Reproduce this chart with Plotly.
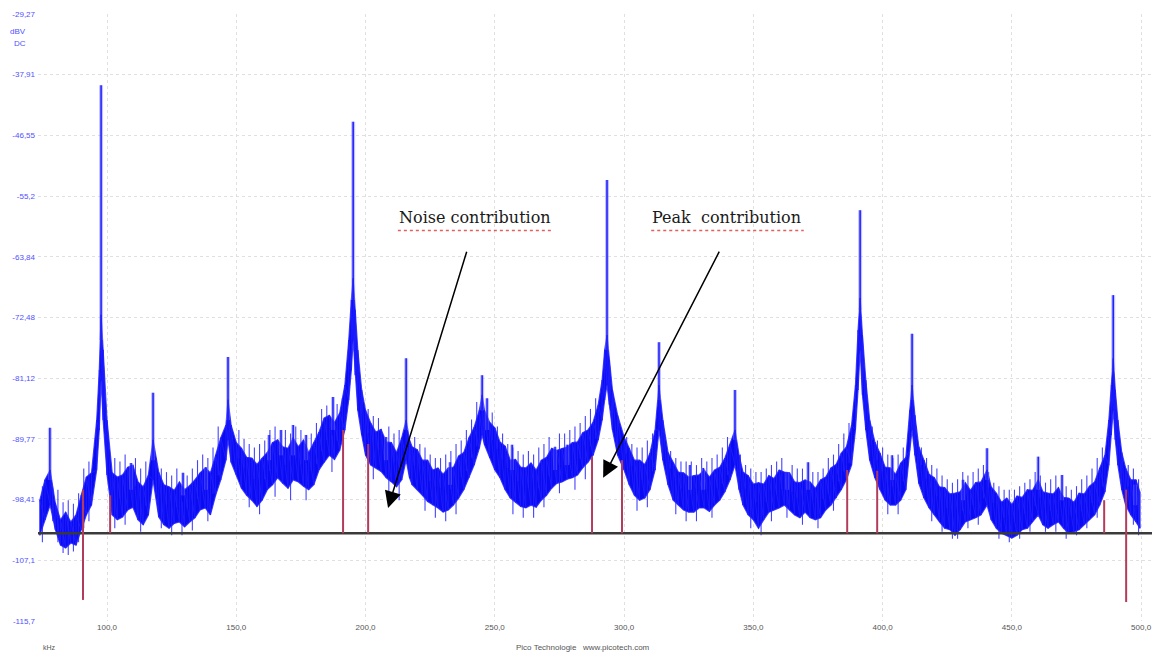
import plotly.graph_objects as go

# Spectrum analyser trace: frequency (kHz) with the lower and upper edge (dBV) of the noisy band
freq_khz = [74, 76, 78, 80, 82, 84, 86, 88, 90, 92, 94, 96, 97, 97.7, 98.5, 100, 102, 104, 106, 108,
            110, 112, 114, 116, 117.8, 120, 122, 124, 126, 128, 130, 132, 134, 136, 138, 140, 142, 144,
            146, 146.8, 148, 150, 152, 154, 156, 158, 160, 162, 164, 166, 168, 170, 172, 174, 176, 178,
            180, 182, 184, 186, 188, 190, 192, 193.5, 194.5, 195.2, 196, 197, 198.5, 200, 202, 204,
            206, 208, 210, 212, 214, 215.7, 217, 218, 220, 222, 224, 226, 228, 230, 232, 234, 236, 238,
            240, 242, 244, 245.1, 246, 248, 250, 252, 254, 256, 258, 260, 262, 264, 266, 268, 270, 272,
            274, 276, 278, 280, 282, 284, 286, 288, 290, 291.5, 292.5, 293.4, 294.3, 295.5, 297.5, 300,
            302, 304, 306, 308, 310, 312, 313.5, 315, 317, 319, 321, 323, 325, 327, 329, 331, 333, 335,
            337, 339, 341, 342.9, 344.5, 346, 348, 350, 352, 354, 356, 358, 360, 362, 364, 366, 368,
            370, 372, 374, 376, 378, 380, 382, 384, 386, 388, 389.5, 390.5, 391.3, 392.2, 393.5, 395,
            397, 399, 401, 403, 405, 407, 409, 410.5, 411.4, 412.5, 414, 416, 418, 420, 422, 424, 426,
            428, 430, 432, 434, 436, 438, 440.4, 442, 444, 446, 448, 450, 452, 454, 456, 458, 460.2,
            462, 464, 466, 468, 470, 472, 474, 476, 478, 480, 482, 484, 486, 487.5, 488.5, 489.2, 490,
            491, 492.5, 494, 496, 498, 499.5]

band_high_db = [-98.5, -95.6, -94.2, -98.9, -101.3, -100.2, -101.6, -100.6, -97.8, -95.2, -94.6, -87.1,
                -80.0, -72.1, -77.1, -87.1, -94.6, -95.2, -94.9, -93.8, -93.5, -95.9, -96.6, -94.9,
                -89.9, -94.5, -96.3, -96.6, -97.1, -95.9, -97.0, -96.4, -95.6, -94.6, -93.9, -94.6,
                -92.1, -89.6, -87.8, -84.2, -87.8, -90.3, -91.1, -92.4, -92.5, -93.4, -92.5, -91.7,
                -90.3, -89.9, -90.9, -91.1, -89.6, -90.9, -89.9, -91.7, -90.3, -88.8, -86.8, -86.4,
                -87.4, -86.1, -82.1, -75.7, -70.0, -66.9, -71.4, -77.1, -82.8, -85.7, -87.5, -88.8,
                -88.4, -90.2, -90.3, -91.7, -89.6, -87.1, -89.9, -90.9, -91.3, -92.8, -92.8, -94.2,
                -93.9, -94.8, -93.9, -93.8, -92.2, -91.7, -89.6, -88.1, -85.7, -83.5, -85.7, -87.4,
                -88.2, -90.2, -90.8, -92.8, -92.7, -93.8, -93.9, -93.2, -94.2, -92.8, -92.4, -91.1,
                -91.4, -91.1, -90.9, -90.3, -90.2, -88.9, -88.5, -87.4, -84.9, -81.4, -77.1, -75.0,
                -78.5, -82.8, -86.4, -89.5, -91.1, -92.8, -92.8, -93.4, -91.8, -88.5, -82.1, -87.1,
                -91.7, -93.2, -94.5, -94.6, -95.2, -95.0, -94.9, -94.2, -95.2, -94.2, -93.8, -92.5,
                -90.6, -88.5, -92.1, -94.5, -95.0, -96.2, -96.0, -96.2, -95.0, -95.4, -94.2, -94.5,
                -94.6, -95.9, -96.0, -95.6, -95.9, -96.8, -95.6, -95.2, -93.9, -93.4, -91.8, -90.9,
                -87.8, -82.1, -74.3, -69.7, -75.0, -81.4, -87.1, -90.2, -91.8, -93.8, -93.9, -94.8,
                -93.2, -92.4, -85.7, -82.1, -86.4, -90.9, -92.8, -94.8, -95.3, -96.6, -96.7, -97.6,
                -97.5, -97.3, -96.0, -97.1, -96.0, -95.9, -94.2, -96.6, -97.5, -98.8, -98.2, -99.1,
                -97.9, -98.1, -97.0, -97.1, -95.6, -97.3, -97.5, -97.6, -96.7, -98.1, -98.2, -98.8,
                -97.5, -97.6, -96.5, -95.9, -93.9, -92.1, -87.1, -82.1, -78.3, -82.8, -87.1, -91.7,
                -93.9, -95.6, -95.6, -97.3]

band_low_db = [-103.5, -101.3, -99.2, -102.7, -104.9, -105.3, -104.6, -104.9, -102.7, -100.6, -99.2,
               -94.2, -88.5, -81.4, -87.1, -94.9, -100.6, -101.3, -100.9, -99.9, -99.5, -101.3, -102.0,
               -100.6, -95.6, -100.9, -102.0, -102.5, -101.8, -101.6, -102.3, -101.6, -101.0, -99.9,
               -99.6, -100.6, -97.8, -95.6, -92.8, -89.9, -93.1, -94.9, -96.8, -97.8, -98.5, -99.4,
               -98.5, -97.0, -96.3, -95.3, -96.1, -96.8, -95.6, -95.9, -96.5, -97.0, -96.3, -94.2,
               -93.1, -92.1, -92.7, -91.4, -88.5, -84.2, -80.0, -75.7, -80.7, -85.7, -89.2, -92.1,
               -93.5, -93.9, -94.4, -95.3, -95.9, -96.6, -95.6, -92.8, -95.3, -96.3, -97.0, -97.8,
               -98.7, -99.2, -99.6, -100.2, -99.9, -99.2, -98.2, -97.0, -95.3, -93.5, -91.1, -89.2,
               -90.6, -92.5, -94.2, -95.3, -97.0, -98.2, -98.8, -99.4, -99.6, -99.2, -99.5, -98.5,
               -97.8, -96.8, -96.1, -95.9, -95.5, -95.3, -94.9, -93.9, -93.1, -92.1, -89.9, -87.1,
               -84.2, -82.1, -84.9, -88.5, -92.1, -94.2, -96.3, -97.8, -98.5, -98.2, -97.0, -94.2,
               -88.5, -92.8, -96.3, -98.5, -99.2, -99.9, -100.2, -100.2, -99.6, -99.6, -100.1, -99.2,
               -98.5, -97.3, -95.6, -93.5, -97.0, -99.2, -100.6, -101.3, -102.5, -101.3, -100.2,
               -99.9, -99.6, -99.2, -99.9, -100.6, -101.0, -100.2, -101.0, -101.3, -101.0, -99.9,
               -99.2, -98.2, -97.0, -95.6, -93.5, -88.5, -82.8, -77.1, -83.5, -88.5, -92.8, -95.3,
               -97.0, -98.5, -99.2, -99.2, -98.5, -97.0, -91.4, -88.5, -92.1, -96.1, -98.2, -99.6,
               -100.6, -101.6, -102.5, -102.7, -103.5, -102.7, -101.6, -101.3, -101.0, -100.6,
               -99.2, -101.3, -102.5, -103.2, -103.5, -103.9, -103.5, -102.7, -102.5, -101.6,
               -100.6, -102.0, -102.5, -102.0, -101.6, -102.5, -103.2, -103.0, -102.7, -102.0,
               -101.3, -100.6, -99.2, -97.3, -93.5, -89.2, -85.7, -89.9, -93.5, -97.0, -99.2, -100.6,
               -101.6, -102.5]

# Short noise excursions sticking out above and below the band
grass_up_khz = [75, 81, 83, 85, 87, 89, 91, 93, 103, 105, 107, 111, 113, 115, 119, 121, 123, 125, 127,
                131, 133, 135, 137, 139, 141, 143, 151, 153, 155, 157, 159, 161, 163, 165, 169, 171,
                173, 175, 179, 181, 183, 185, 189, 191, 201, 203, 205, 209, 211, 213, 219, 221, 223,
                225, 227, 229, 231, 233, 235, 237, 239, 241, 243, 249, 251, 253, 255, 257, 259, 261,
                263, 265, 267, 269, 271, 275, 277, 279, 281, 283, 285, 287, 289, 301, 303, 305, 307,
                309, 311, 316, 318, 320, 322, 324, 326, 328, 330, 332, 334, 336, 338, 340, 345, 347,
                349, 351, 353, 355, 357, 359, 361, 365, 367, 369, 373, 375, 377, 379, 381, 383, 385,
                387, 396, 398, 400, 402, 404, 406, 408, 413, 415, 417, 419, 421, 423, 425, 427, 429,
                431, 433, 435, 437, 439, 441, 443, 445, 447, 449, 451, 453, 455, 457, 459, 461, 463,
                465, 467, 471, 473, 475, 477, 479, 481, 483, 485, 495, 497, 499]
grass_up_db = [-96.5, -97.0, -98.8, -98.5, -99.0, -97.5, -94.0, -93.0, -92.5, -93.0, -92.0, -92.5,
               -94.0, -93.0, -92.5, -94.0, -94.5, -95.0, -94.0, -95.0, -94.0, -92.8, -92.0, -92.5,
               -91.0, -88.0, -88.5, -89.8, -90.5, -91.0, -90.5, -90.0, -88.5, -88.0, -88.5, -89.0,
               -88.0, -88.5, -89.0, -87.5, -85.5, -85.0, -84.8, -84.0, -85.5, -86.5, -86.8, -88.0,
               -89.0, -88.5, -89.5, -90.5, -91.0, -92.0, -92.5, -92.5, -92.0, -91.5, -90.5, -90.0,
               -88.5, -87.0, -84.5, -86.0, -88.0, -89.0, -90.5, -91.0, -91.5, -92.0, -91.5, -92.0,
               -91.0, -90.5, -89.5, -89.0, -89.0, -88.5, -88.0, -87.5, -86.5, -85.5, -84.0, -89.5,
               -90.5, -91.0, -91.0, -90.0, -89.0, -89.5, -91.5, -92.5, -93.0, -93.0, -93.0, -93.5,
               -92.5, -93.0, -92.5, -92.0, -91.0, -89.5, -92.0, -93.5, -94.0, -94.5, -94.5, -94.0,
               -93.5, -93.0, -92.5, -93.5, -94.0, -94.0, -94.5, -94.5, -94.0, -92.5, -92.0, -90.5,
               -89.0, -87.5, -88.0, -90.0, -91.0, -92.0, -92.5, -92.0, -91.0, -88.0, -91.0, -92.5,
               -93.5, -94.0, -95.0, -95.5, -96.0, -95.5, -94.5, -95.0, -94.5, -94.0, -93.5, -94.5,
               -96.0, -96.5, -97.0, -97.0, -97.0, -96.5, -96.0, -95.5, -94.5, -95.0, -96.0, -95.5,
               -95.0, -96.5, -97.0, -96.5, -95.5, -95.0, -94.0, -92.5, -91.0, -93.5, -94.0, -95.5]
grass_down_khz = [75, 79, 81, 83, 85, 87, 89, 91, 93, 103, 107, 113, 121, 125, 129, 133, 139, 155, 159,
                  165, 171, 177, 187, 203, 209, 213, 223, 227, 231, 235, 257, 261, 265, 269, 275, 281,
                  285, 305, 309, 320, 324, 328, 334, 349, 353, 357, 363, 369, 375, 381, 402, 406, 419,
                  423, 427, 429, 433, 437, 445, 449, 453, 457, 463, 467, 471, 475, 479, 483, 497, 499]
grass_down_db = [-104.5, -101.5, -104.5, -106.0, -106.3, -105.8, -104.5, -102.5, -101.5, -102.5,
                 -102.0, -103.0, -102.5, -103.5, -103.5, -102.8, -101.5, -99.5, -100.5, -98.0, -98.5,
                 -98.5, -94.5, -95.5, -97.5, -98.5, -100.0, -101.0, -101.5, -100.5, -100.5, -101.0,
                 -101.0, -99.5, -97.5, -97.0, -95.5, -100.0, -99.5, -100.5, -101.5, -101.5, -101.0,
                 -102.5, -103.5, -101.5, -101.0, -102.0, -102.5, -100.0, -100.5, -100.5, -101.5,
                 -103.0, -104.0, -104.0, -102.5, -102.0, -104.0, -104.5, -104.0, -103.0, -103.0,
                 -103.0, -104.0, -103.5, -102.5, -101.0, -102.0, -103.5]

# Narrow spectral lines standing out of the band: position, top and foot (dBV)
spike_khz = [77.9, 97.7, 109.3, 117.8, 129.4, 138.3, 146.8, 162.7, 167.3, 172.0, 177.0, 187.4, 195.2,
             207.9, 215.7, 232.7, 245.1, 247.0, 256.7, 273.3, 278.0, 293.4, 313.5, 325.5, 330.6, 342.9,
             363.1, 371.2, 391.3, 403.7, 411.4, 431.1, 440.4, 460.2, 469.4, 489.2, 497.7]
spike_top_db = [-88.2, -39.4, -93.2, -83.2, -94.6, -93.8, -78.1, -89.2, -88.5, -87.8, -89.2, -83.8,
                -44.6, -89.5, -78.3, -93.1, -80.7, -84.0, -90.6, -90.9, -90.6, -52.9, -76.0, -93.5,
                -93.9, -82.8, -94.6, -93.1, -57.2, -92.1, -74.8, -95.6, -91.1, -92.3, -94.9, -69.3,
                -96.3]
spike_base_db = [-95.6, -75.7, -97.0, -92.8, -97.8, -97.0, -87.1, -92.8, -92.1, -92.1, -92.8, -88.5,
                 -70.0, -92.8, -88.5, -96.3, -85.7, -88.5, -94.2, -94.2, -93.5, -77.1, -84.2, -97.0,
                 -97.0, -89.9, -97.0, -97.0, -71.4, -95.6, -84.2, -98.5, -95.6, -97.0, -98.5, -80.0,
                 -99.2]

# Reference level and the marker lines on both sides of each harmonic
baseline_db = -103.2
marker_khz = [90.7, 101.2, 191.3, 201.0, 287.6, 299.2, 386.3, 397.9, 485.7, 494.2]
marker_top_db = [-97.0, -97.8, -88.5, -90.5, -92.3, -92.8, -94.2, -94.3, -98.5, -97.0]
marker_bottom_db = [-112.7, -103.2, -103.2, -103.2, -103.2, -103.2, -103.2, -103.2, -103.2, -113.0]

# Axis ticks
y_tick_vals = [-29.27, -37.91, -46.55, -55.2, -63.84, -72.48, -81.12, -89.77, -98.41, -107.1, -115.7]
y_tick_text = ["-29,27", "-37,91", "-46,55", "-55,2", "-63,84", "-72,48", "-81,12", "-89,77",
               "-98,41", "-107,1", "-115,7"]
x_tick_vals = [100, 150, 200, 250, 300, 350, 400, 450, 500]
x_tick_text = ["100,0", "150,0", "200,0", "250,0", "300,0", "350,0", "400,0", "450,0", "500,0"]

X_RANGE = [73.3, 504.2]
Y_RANGE = [-115.7, -29.27]

BLUE = "#0b0bf2"


def band_mid(f):
    """Middle of the band at the grid frequency nearest to f."""
    i = min(range(len(freq_khz)), key=lambda k: abs(freq_khz[k] - f))
    return (band_high_db[i] + band_low_db[i]) / 2


fig = go.Figure()

# noisy band: closed outline (upper edge forward, lower edge back)
fig.add_trace(go.Scatter(
    x=freq_khz + freq_khz[::-1],
    y=band_high_db + band_low_db[::-1],
    fill="toself", fillcolor=BLUE, mode="lines",
    line=dict(color="rgba(40,40,255,0.85)", width=1.2),
    hoverinfo="skip", showlegend=False))

# vertical strokes across the band for the grainy texture
zx, zy = [], []
for f, lo, hi in zip(freq_khz, band_low_db, band_high_db):
    zx += [f, f]
    zy += [lo, hi]
fig.add_trace(go.Scatter(x=zx, y=zy, mode="lines",
                         line=dict(color="rgba(30,30,255,0.9)", width=1),
                         hoverinfo="skip", showlegend=False))

# noise excursions beyond the band edges
gx, gy = [], []
for f, v in zip(grass_up_khz + grass_down_khz, grass_up_db + grass_down_db):
    gx += [f, f, None]
    gy += [band_mid(f), v, None]
fig.add_trace(go.Scatter(x=gx, y=gy, mode="lines",
                         line=dict(color="rgba(35,35,255,0.85)", width=1.1),
                         hoverinfo="skip", showlegend=False))

# narrow lines: soft halo then core
sx, sy = [], []
for f, top, base in zip(spike_khz, spike_top_db, spike_base_db):
    sx += [f, f, None]
    sy += [base, top, None]
fig.add_trace(go.Scatter(x=sx, y=sy, mode="lines",
                         line=dict(color="rgba(120,120,255,0.45)", width=4),
                         hoverinfo="skip", showlegend=False))
fig.add_trace(go.Scatter(x=sx, y=sy, mode="lines",
                         line=dict(color="rgba(25,25,255,0.95)", width=1.6),
                         hoverinfo="skip", showlegend=False))

# reference level line
fig.add_trace(go.Scatter(x=X_RANGE, y=[baseline_db, baseline_db], mode="lines",
                         line=dict(color="#3a3a3a", width=2.5),
                         hoverinfo="skip", showlegend=False))

# marker lines
mx, my = [], []
for f, top, bot in zip(marker_khz, marker_top_db, marker_bottom_db):
    mx += [f, f, None]
    my += [bot, top, None]
fig.add_trace(go.Scatter(x=mx, y=my, mode="lines",
                         line=dict(color="#b23c5c", width=2),
                         hoverinfo="skip", showlegend=False))

axis_font = dict(family="Liberation Sans, Arial, sans-serif", size=8)

fig.update_layout(
    width=1152, height=653,
    margin=dict(l=38, r=0, t=14, b=32),
    paper_bgcolor="white", plot_bgcolor="white",
    xaxis=dict(range=X_RANGE, tickvals=x_tick_vals, ticktext=x_tick_text,
               showgrid=True, gridcolor="#e0e0e0", griddash="dot", gridwidth=1,
               zeroline=False, showline=False, ticks="",
               tickfont=dict(axis_font, color="#555555")),
    yaxis=dict(range=Y_RANGE, tickvals=y_tick_vals, ticktext=y_tick_text,
               showgrid=True, gridcolor="#e0e0e0", griddash="dot", gridwidth=1,
               zeroline=False, showline=False, ticks="", ticklabelstandoff=2,
               tickfont=dict(axis_font, color="#5050ff")),
)

# unit labels under the top tick
fig.add_annotation(text="dBV", xref="paper", yref="paper", x=-0.009, y=0.982,
                   xanchor="right", showarrow=False, font=dict(axis_font, color="#5050ff"))
fig.add_annotation(text="DC", xref="paper", yref="paper", x=-0.009, y=0.962,
                   xanchor="right", showarrow=False, font=dict(axis_font, color="#5050ff"))
fig.add_annotation(text="kHz", xref="paper", yref="paper", x=0.003, y=-0.043,
                   xanchor="left", yanchor="middle", showarrow=False,
                   font=dict(family="Liberation Sans, Arial, sans-serif", size=7, color="#555555"))
fig.add_annotation(text="Pico Technologie&nbsp;&nbsp;&nbsp;www.picotech.com", xref="paper", yref="paper",
                   x=0.489, y=-0.043, xanchor="center", yanchor="middle", showarrow=False,
                   font=dict(family="Liberation Sans, Arial, sans-serif", size=8, color="#555555"))

# callouts with their proofing underline
label_font = dict(family="DejaVu Serif, Liberation Serif, serif", size=16, color="#1a1a1a")
fig.add_annotation(text="Noise contribution", x=242.4, y=-58.2, xref="x", yref="y",
                   showarrow=False, font=label_font)
fig.add_annotation(text="Peak&nbsp;&nbsp;contribution", x=339.8, y=-58.2, xref="x", yref="y",
                   showarrow=False, font=label_font)
for x0, x1 in [(212.5, 272.0), (310.5, 369.5)]:
    fig.add_shape(type="line", xref="x", yref="y", x0=x0, x1=x1, y0=-60.1, y1=-60.1,
                  line=dict(color="rgba(220,40,40,0.75)", width=1.5, dash="dot"))
fig.add_annotation(x=208.7, y=-99.6, ax=239.3, ay=-62.9, xref="x", yref="y", axref="x", ayref="y",
                   text="", showarrow=True, arrowhead=2, arrowsize=2.2, arrowwidth=1.5,
                   arrowcolor="black")
fig.add_annotation(x=291.9, y=-95.3, ax=337.1, ay=-62.9, xref="x", yref="y", axref="x", ayref="y",
                   text="", showarrow=True, arrowhead=2, arrowsize=2.2, arrowwidth=1.5,
                   arrowcolor="black")

fig.write_html("out.html")
